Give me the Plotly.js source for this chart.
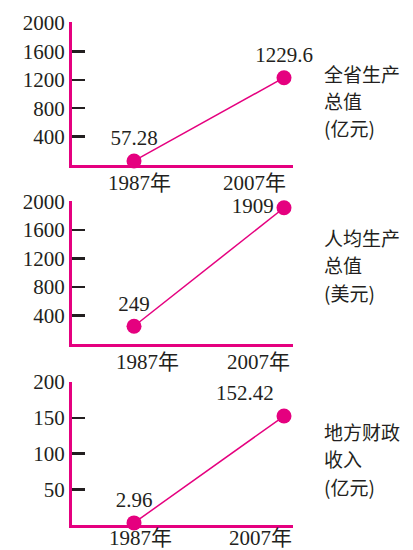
<!DOCTYPE html>
<html><head><meta charset="utf-8">
<script src="https://cdn.plot.ly/plotly-3.0.1.min.js"></script>
<style>html,body{margin:0;padding:0;background:#fff;}#chart{width:413px;height:550px;}</style>
</head><body><div id="chart"></div>
<script>
const years = [1987, 2007];
const yearLabels = ['1987年', '2007年'];
const gdpTotal = [57.28, 1229.6];          // 全省生产总值 (亿元)
const gdpPerCapita = [249, 1909];          // 人均生产总值 (美元)
const localRevenue = [2.96, 152.42];       // 地方财政收入 (亿元)
const ticksBig = [400, 800, 1200, 1600, 2000];
const ticksSmall = [50, 100, 150, 200];
const titles = [['全省生产', '总值', '(亿元)'], ['人均生产', '总值', '(美元)'], ['地方财政', '收入', '(亿元)']];

const MAG = '#e5007f';
const INK = '#231f20';
const SERIF = '"Liberation Serif", "Times New Roman", "Noto Sans CJK SC", serif';
const SANS = '"Noto Sans CJK SC", "Noto Sans", sans-serif';
const H = 550, W = 413;

const series = [gdpTotal, gdpPerCapita, localRevenue];
const textPos = [
  ['top center', 'top center'],
  ['top center', 'middle left'],
  ['top center', 'top left']
];
const traces = series.map((vals, i) => ({
  type: 'scatter',
  mode: 'lines+markers+text',
  x: years, y: vals,
  xaxis: i === 0 ? 'x' : 'x' + (i + 1),
  yaxis: i === 0 ? 'y' : 'y' + (i + 1),
  text: vals.map(v => String(v)),
  textposition: textPos[i],
  textfont: {family: SERIF, size: 21, color: INK},
  line: {color: MAG, width: 1.5},
  marker: {color: MAG, size: 15},
  cliponaxis: false,
  hoverinfo: 'skip'
}));

// pixel geometry: [x-axis row, top of y-axis]
const rows = [[165, 22], [344, 201], [525, 382]];
const xDom = [72 / W, 293 / W];
const xRange = [1978.73, 2008.2];

const layout = {
  width: W, height: H,
  margin: {l: 0, r: 0, t: 0, b: 0},
  paper_bgcolor: '#fff', plot_bgcolor: 'rgba(0,0,0,0)',
  showlegend: false,
  annotations: []
};
const yRanges = [[0, 2014], [0, 2004], [0, 200]];
const tickSets = [ticksBig, ticksBig, ticksSmall];
const yearShifts = [[5, -30], [13, -26], [6, -24]];
const yearY = [-4, -4, 1];
const titleLineY = [[74, 100, 128], [237, 264, 292], [431, 458, 486]];

rows.forEach((r, i) => {
  const sx = i === 0 ? '' : String(i + 1);
  layout['xaxis' + sx] = {
    domain: xDom, range: xRange, anchor: 'y' + sx,
    showline: true, linecolor: MAG, linewidth: 3,
    showgrid: false, zeroline: false, ticks: '', showticklabels: false, fixedrange: true
  };
  layout['yaxis' + sx] = {
    domain: [1 - r[0] / H, 1 - r[1] / H], range: yRanges[i], anchor: 'x' + sx,
    showline: true, linecolor: MAG, linewidth: 3,
    showgrid: false, zeroline: false,
    tickmode: 'array', tickvals: tickSets[i], ticktext: tickSets[i].map(String),
    ticks: 'inside', ticklen: 13, tickwidth: 2.5, tickcolor: INK,
    tickfont: {family: SERIF, size: 21, color: INK}, fixedrange: true
  };
  years.forEach((yr, j) => {
    layout.annotations.push({
      xref: 'x' + sx, yref: 'y' + sx + ' domain', x: yr, y: 0,
      xanchor: 'center', yanchor: 'top', yshift: yearY[i], xshift: yearShifts[i][j],
      text: yearLabels[j], showarrow: false,
      font: {family: SERIF, size: 21, color: INK}
    });
  });
  titles[i].forEach((line, k) => {
    layout.annotations.push({
      xref: 'paper', yref: 'paper', x: 322 / W, y: 1 - titleLineY[i][k] / H,
      xanchor: 'left', yanchor: 'middle', align: 'left',
      text: line, showarrow: false,
      font: {family: SANS, size: 19, color: INK}
    });
  });
});

Plotly.newPlot('chart', traces, layout, {displayModeBar: false, staticPlot: true});
</script></body></html>
